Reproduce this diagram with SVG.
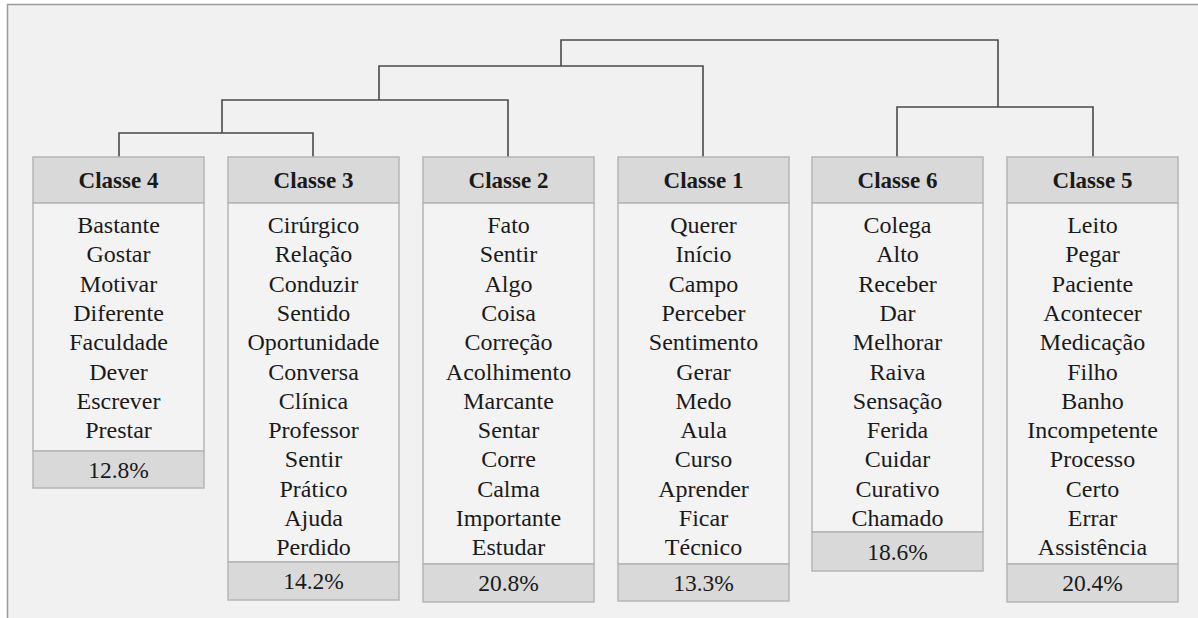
<svg xmlns="http://www.w3.org/2000/svg" width="1198" height="618" viewBox="0 0 1198 618" font-family="Liberation Serif, Times New Roman, serif">
<defs>
<g id="hdrbox"><rect x="0" y="0" width="171" height="46" fill="#d9d9d9" stroke="#b5b5b5" stroke-width="1.5"/></g>
</defs>
<rect x="0" y="0" width="1198" height="618" fill="#ffffff"/>
<path d="M7.5,618 V4.5 H1198 V618 Z" fill="#f1f1f1"/>
<path d="M7.5,618 V4.5 H1198" fill="none" stroke="#9a9a9a" stroke-width="1.5"/>

<g id="connectors" fill="none" stroke="#4a4a4a" stroke-width="1.6">
<path d="M119,157 V133 H313 V157"/>
<path d="M222,133 V100 H508 V157"/>
<path d="M379,100 V66 H703 V157"/>
<path d="M561,66 V40 H998 V107"/>
<path d="M897,157 V107 H1093 V157"/>
</g>

<g id="classe4">
<use href="#hdrbox" x="33" y="157"/>
<rect x="33" y="203" width="171" height="248" fill="#f3f3f3" stroke="#b5b5b5" stroke-width="1.5"/>
<rect x="33" y="451" width="171" height="37" fill="#d9d9d9" stroke="#b5b5b5" stroke-width="1.5"/>
<text x="118.5" y="188" font-family="Liberation Serif" font-size="23" font-weight="bold" fill="#1a1a1a" text-anchor="middle">Classe 4</text>
<g font-family="Liberation Serif" font-size="24" fill="#1a1a1a" text-anchor="middle">
<text x="118.5" y="233" font-family="Liberation Serif">Bastante</text>
<text x="118.5" y="262.3" font-family="Liberation Serif">Gostar</text>
<text x="118.5" y="291.6" font-family="Liberation Serif">Motivar</text>
<text x="118.5" y="320.9" font-family="Liberation Serif">Diferente</text>
<text x="118.5" y="350.2" font-family="Liberation Serif">Faculdade</text>
<text x="118.5" y="379.5" font-family="Liberation Serif">Dever</text>
<text x="118.5" y="408.8" font-family="Liberation Serif">Escrever</text>
<text x="118.5" y="438.1" font-family="Liberation Serif">Prestar</text>
<text x="118.5" y="477.5" font-family="Liberation Serif" font-size="23.5">12.8%</text>
</g>
</g>

<g id="classe3">
<use href="#hdrbox" x="228" y="157"/>
<rect x="228" y="203" width="171" height="359" fill="#f3f3f3" stroke="#b5b5b5" stroke-width="1.5"/>
<rect x="228" y="562" width="171" height="38" fill="#d9d9d9" stroke="#b5b5b5" stroke-width="1.5"/>
<text x="313.5" y="188" font-family="Liberation Serif" font-size="23" font-weight="bold" fill="#1a1a1a" text-anchor="middle">Classe 3</text>
<g font-family="Liberation Serif" font-size="24" fill="#1a1a1a" text-anchor="middle">
<text x="313.5" y="233" font-family="Liberation Serif">Cirúrgico</text>
<text x="313.5" y="262.3" font-family="Liberation Serif">Relação</text>
<text x="313.5" y="291.6" font-family="Liberation Serif">Conduzir</text>
<text x="313.5" y="320.9" font-family="Liberation Serif">Sentido</text>
<text x="313.5" y="350.2" font-family="Liberation Serif">Oportunidade</text>
<text x="313.5" y="379.5" font-family="Liberation Serif">Conversa</text>
<text x="313.5" y="408.8" font-family="Liberation Serif">Clínica</text>
<text x="313.5" y="438.1" font-family="Liberation Serif">Professor</text>
<text x="313.5" y="467.4" font-family="Liberation Serif">Sentir</text>
<text x="313.5" y="496.7" font-family="Liberation Serif">Prático</text>
<text x="313.5" y="526" font-family="Liberation Serif">Ajuda</text>
<text x="313.5" y="555.3" font-family="Liberation Serif">Perdido</text>
<text x="313.5" y="589" font-family="Liberation Serif" font-size="23.5">14.2%</text>
</g>
</g>

<g id="classe2">
<use href="#hdrbox" x="423" y="157"/>
<rect x="423" y="203" width="171" height="361" fill="#f3f3f3" stroke="#b5b5b5" stroke-width="1.5"/>
<rect x="423" y="564" width="171" height="38" fill="#d9d9d9" stroke="#b5b5b5" stroke-width="1.5"/>
<text x="508.5" y="188" font-family="Liberation Serif" font-size="23" font-weight="bold" fill="#1a1a1a" text-anchor="middle">Classe 2</text>
<g font-family="Liberation Serif" font-size="24" fill="#1a1a1a" text-anchor="middle">
<text x="508.5" y="233" font-family="Liberation Serif">Fato</text>
<text x="508.5" y="262.3" font-family="Liberation Serif">Sentir</text>
<text x="508.5" y="291.6" font-family="Liberation Serif">Algo</text>
<text x="508.5" y="320.9" font-family="Liberation Serif">Coisa</text>
<text x="508.5" y="350.2" font-family="Liberation Serif">Correção</text>
<text x="508.5" y="379.5" font-family="Liberation Serif">Acolhimento</text>
<text x="508.5" y="408.8" font-family="Liberation Serif">Marcante</text>
<text x="508.5" y="438.1" font-family="Liberation Serif">Sentar</text>
<text x="508.5" y="467.4" font-family="Liberation Serif">Corre</text>
<text x="508.5" y="496.7" font-family="Liberation Serif">Calma</text>
<text x="508.5" y="526" font-family="Liberation Serif">Importante</text>
<text x="508.5" y="555.3" font-family="Liberation Serif">Estudar</text>
<text x="508.5" y="591" font-family="Liberation Serif" font-size="23.5">20.8%</text>
</g>
</g>

<g id="classe1">
<use href="#hdrbox" x="618" y="157"/>
<rect x="618" y="203" width="171" height="361" fill="#f3f3f3" stroke="#b5b5b5" stroke-width="1.5"/>
<rect x="618" y="564" width="171" height="37" fill="#d9d9d9" stroke="#b5b5b5" stroke-width="1.5"/>
<text x="703.5" y="188" font-family="Liberation Serif" font-size="23" font-weight="bold" fill="#1a1a1a" text-anchor="middle">Classe 1</text>
<g font-family="Liberation Serif" font-size="24" fill="#1a1a1a" text-anchor="middle">
<text x="703.5" y="233" font-family="Liberation Serif">Querer</text>
<text x="703.5" y="262.3" font-family="Liberation Serif">Início</text>
<text x="703.5" y="291.6" font-family="Liberation Serif">Campo</text>
<text x="703.5" y="320.9" font-family="Liberation Serif">Perceber</text>
<text x="703.5" y="350.2" font-family="Liberation Serif">Sentimento</text>
<text x="703.5" y="379.5" font-family="Liberation Serif">Gerar</text>
<text x="703.5" y="408.8" font-family="Liberation Serif">Medo</text>
<text x="703.5" y="438.1" font-family="Liberation Serif">Aula</text>
<text x="703.5" y="467.4" font-family="Liberation Serif">Curso</text>
<text x="703.5" y="496.7" font-family="Liberation Serif">Aprender</text>
<text x="703.5" y="526" font-family="Liberation Serif">Ficar</text>
<text x="703.5" y="555.3" font-family="Liberation Serif">Técnico</text>
<text x="703.5" y="590.5" font-family="Liberation Serif" font-size="23.5">13.3%</text>
</g>
</g>

<g id="classe6">
<use href="#hdrbox" x="812" y="157"/>
<rect x="812" y="203" width="171" height="329" fill="#f3f3f3" stroke="#b5b5b5" stroke-width="1.5"/>
<rect x="812" y="532" width="171" height="39" fill="#d9d9d9" stroke="#b5b5b5" stroke-width="1.5"/>
<text x="897.5" y="188" font-family="Liberation Serif" font-size="23" font-weight="bold" fill="#1a1a1a" text-anchor="middle">Classe 6</text>
<g font-family="Liberation Serif" font-size="24" fill="#1a1a1a" text-anchor="middle">
<text x="897.5" y="233" font-family="Liberation Serif">Colega</text>
<text x="897.5" y="262.3" font-family="Liberation Serif">Alto</text>
<text x="897.5" y="291.6" font-family="Liberation Serif">Receber</text>
<text x="897.5" y="320.9" font-family="Liberation Serif">Dar</text>
<text x="897.5" y="350.2" font-family="Liberation Serif">Melhorar</text>
<text x="897.5" y="379.5" font-family="Liberation Serif">Raiva</text>
<text x="897.5" y="408.8" font-family="Liberation Serif">Sensação</text>
<text x="897.5" y="438.1" font-family="Liberation Serif">Ferida</text>
<text x="897.5" y="467.4" font-family="Liberation Serif">Cuidar</text>
<text x="897.5" y="496.7" font-family="Liberation Serif">Curativo</text>
<text x="897.5" y="526" font-family="Liberation Serif">Chamado</text>
<text x="897.5" y="559.5" font-family="Liberation Serif" font-size="23.5">18.6%</text>
</g>
</g>

<g id="classe5">
<use href="#hdrbox" x="1007" y="157"/>
<rect x="1007" y="203" width="171" height="361" fill="#f3f3f3" stroke="#b5b5b5" stroke-width="1.5"/>
<rect x="1007" y="564" width="171" height="38" fill="#d9d9d9" stroke="#b5b5b5" stroke-width="1.5"/>
<text x="1092.5" y="188" font-family="Liberation Serif" font-size="23" font-weight="bold" fill="#1a1a1a" text-anchor="middle">Classe 5</text>
<g font-family="Liberation Serif" font-size="24" fill="#1a1a1a" text-anchor="middle">
<text x="1092.5" y="233" font-family="Liberation Serif">Leito</text>
<text x="1092.5" y="262.3" font-family="Liberation Serif">Pegar</text>
<text x="1092.5" y="291.6" font-family="Liberation Serif">Paciente</text>
<text x="1092.5" y="320.9" font-family="Liberation Serif">Acontecer</text>
<text x="1092.5" y="350.2" font-family="Liberation Serif">Medicação</text>
<text x="1092.5" y="379.5" font-family="Liberation Serif">Filho</text>
<text x="1092.5" y="408.8" font-family="Liberation Serif">Banho</text>
<text x="1092.5" y="438.1" font-family="Liberation Serif">Incompetente</text>
<text x="1092.5" y="467.4" font-family="Liberation Serif">Processo</text>
<text x="1092.5" y="496.7" font-family="Liberation Serif">Certo</text>
<text x="1092.5" y="526" font-family="Liberation Serif">Errar</text>
<text x="1092.5" y="555.3" font-family="Liberation Serif">Assistência</text>
<text x="1092.5" y="591" font-family="Liberation Serif" font-size="23.5">20.4%</text>
</g>
</g>
</svg>
